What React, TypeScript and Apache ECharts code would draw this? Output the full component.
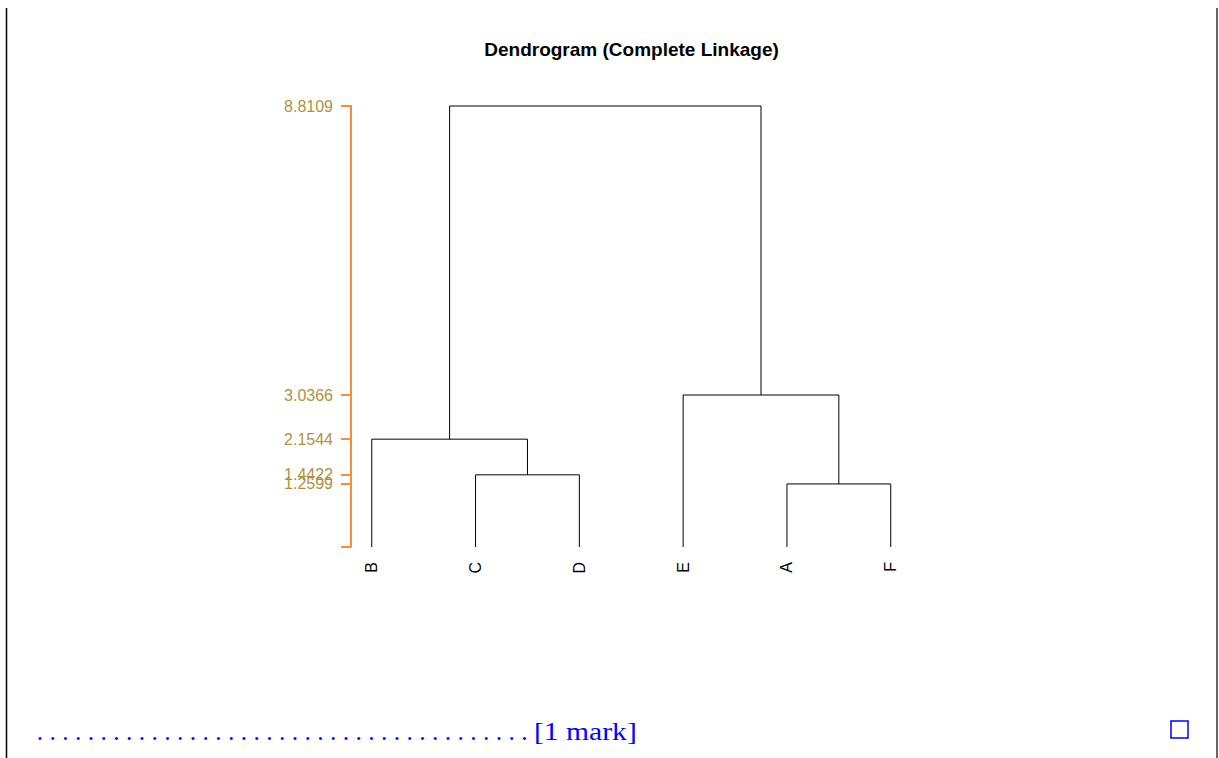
import React, { useEffect, useRef } from "react";
import * as echarts from "echarts";

// ---- data ----
const leaves = ["B", "C", "D", "E", "A", "F"];
// R-style merge table: negative = leaf (1-based index into leaves), positive = earlier merge (1-based)
const mergeLeft = [-2, -5, -1, -4, 3];
const mergeRight = [-3, -6, 1, 2, 4];
const mergeHeight = [1.4422, 1.2599, 2.1544, 3.0366, 8.8109];
// two overlapping labels are split over two axes so neither is hidden
const yTickLabelsA = [8.8109, 3.0366, 2.1544, 1.2599];
const yTickLabelsB = [1.4422];
const yTickMarks = [0, 8.8109, 3.0366, 2.1544, 1.4422, 1.2599];
const yMax = 8.8109;
const titleText = "Dendrogram (Complete Linkage)";
const footerDots = ". ".repeat(38) + ".";
const footerMark = "[1 mark]";

function buildLinks() {
  const mergeX: number[] = [];
  const nodeX = (id: number) => (id < 0 ? -id : mergeX[id - 1]);
  const nodeH = (id: number) => (id < 0 ? 0 : mergeHeight[id - 1]);
  const links: number[][] = [];
  for (let k = 0; k < mergeLeft.length; k++) {
    const xl = nodeX(mergeLeft[k]);
    const xr = nodeX(mergeRight[k]);
    mergeX.push((xl + xr) / 2);
    links.push([xl, nodeH(mergeLeft[k]), xr, nodeH(mergeRight[k]), mergeHeight[k]]);
  }
  return links;
}

export default function App() {
  const ref = useRef<HTMLDivElement>(null);
  useEffect(() => {
    if (!ref.current) return;
    const chart = echarts.init(ref.current, undefined, { renderer: "svg" });
    const links = buildLinks();
    const orange = "#fb8b3a";
    const gold = "#b0903e";
    const labelStyle = {
      formatter: (v: number) => String(v),
      margin: 18,
      fontSize: 16,
      fontFamily: "Liberation Sans, Arial, sans-serif",
      color: gold,
      hideOverlap: false,
      showMinLabel: true,
      showMaxLabel: true,
    };
    chart.setOption({
      animation: false,
      backgroundColor: "#ffffff",
      title: {
        text: titleText,
        left: 631.5,
        top: 40,
        textAlign: "center",
        padding: 0,
        textStyle: {
          fontFamily: "Liberation Sans, Arial, sans-serif",
          fontSize: 19,
          fontWeight: "bold",
          color: "#000",
        },
      },
      grid: { left: 351, top: 106, width: 560.5, height: 441, containLabel: false },
      xAxis: {
        type: "value",
        min: 0.8,
        max: 6.2,
        axisLine: { show: false },
        axisTick: { show: false },
        splitLine: { show: false },
        axisLabel: {
          customValues: leaves.map((_, i) => i + 1),
          formatter: (v: number) => leaves[Math.round(v) - 1] ?? "",
          rotate: 90,
          margin: 15,
          fontSize: 16,
          fontFamily: "Liberation Sans, Arial, sans-serif",
          color: "#000",
          showMinLabel: true,
          showMaxLabel: true,
        },
      },
      yAxis: [
        {
          type: "value",
          position: "left",
          min: 0,
          max: yMax,
          axisLine: { show: true, lineStyle: { color: orange, width: 2 } },
          axisTick: {
            show: true,
            length: 10,
            customValues: yTickMarks,
            lineStyle: { color: orange, width: 2 },
          },
          splitLine: { show: false },
          axisLabel: { ...labelStyle, customValues: yTickLabelsA },
        },
        {
          type: "value",
          position: "left",
          offset: 0,
          min: 0,
          max: yMax,
          axisLine: { show: false },
          axisTick: { show: false },
          splitLine: { show: false },
          axisLabel: { ...labelStyle, customValues: yTickLabelsB },
        },
      ],
      series: [
        {
          type: "custom",
          yAxisIndex: 0,
          data: links,
          encode: { x: [0, 2], y: [1, 3, 4] },
          renderItem: (params: any, api: any) => {
            const xl = api.value(0);
            const hl = api.value(1);
            const xr = api.value(2);
            const hr = api.value(3);
            const h = api.value(4);
            const pts = [
              api.coord([xl, hl]),
              api.coord([xl, h]),
              api.coord([xr, h]),
              api.coord([xr, hr]),
            ];
            return {
              type: "polyline",
              shape: { points: pts },
              style: { stroke: "#000", lineWidth: 1, fill: "none" },
            };
          },
        },
      ],
      graphic: [
        {
          type: "line",
          shape: { x1: 6.5, y1: 8, x2: 6.5, y2: 758 },
          style: { stroke: "#000", lineWidth: 1.5 },
        },
        {
          type: "line",
          shape: { x1: 1217, y1: 8, x2: 1217, y2: 758 },
          style: { stroke: "#333", lineWidth: 1.5 },
        },
        {
          type: "text",
          x: 36.8,
          y: 731,
          style: {
            text: footerDots,
            font: "25.5px 'Liberation Serif', 'Times New Roman', serif",
            fill: "#0000ff",
            textVerticalAlign: "middle",
          },
        },
        {
          type: "text",
          x: 534,
          y: 731,
          scaleX: 1.14,
          style: {
            text: footerMark,
            font: "26px 'Liberation Serif', 'Times New Roman', serif",
            fill: "#0000ff",
            textVerticalAlign: "middle",
          },
        },
        {
          type: "rect",
          shape: { x: 1171, y: 721, width: 17, height: 17 },
          style: { fill: "none", stroke: "#0000ff", lineWidth: 1.5 },
        },
      ],
    });
    return () => chart.dispose();
  }, []);
  return (
    <div
      ref={ref}
      style={{ position: "fixed", left: 0, top: 0, width: 1219, height: 758 }}
    />
  );
}
